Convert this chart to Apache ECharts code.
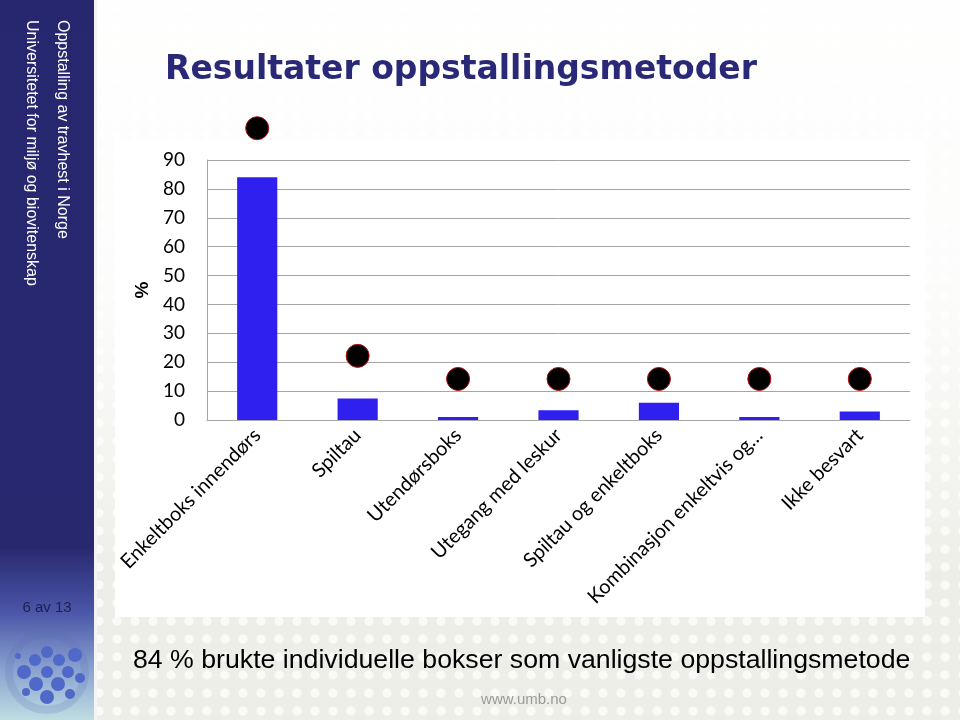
<!DOCTYPE html>
<html>
<head>
<meta charset="utf-8">
<script src="https://cdn.jsdelivr.net/npm/echarts@6/dist/echarts.min.js"></script>
<style>
html,body{margin:0;padding:0;}
body{width:960px;height:720px;overflow:hidden;
background-color:#eeeee9;
background-image:linear-gradient(to bottom, rgba(255,255,255,0.96) 0%, rgba(255,255,255,0.85) 40%, rgba(255,255,255,0) 80%),
radial-gradient(circle, #fafaf8 4px, rgba(0,0,0,0) 5px);
background-size:960px 720px, 18px 18px;}
#chart{width:960px;height:720px;}
</style>
</head>
<body>
<div id="chart"></div>
<script>
var categories = ['Enkeltboks innendørs','Spiltau','Utendørsboks','Utegang med leskur','Spiltau og enkeltboks','Kombinasjon enkeltvis og…','Ikke besvart'];
var barValues = [84, 7.4, 1.0, 3.4, 6.0, 1.0, 2.9];
var dotValues = [101, 22.2, 14.2, 14.2, 14.2, 14.2, 14.2];
var yTicks = [0, 10, 20, 30, 40, 50, 60, 70, 80, 90];

var chart = echarts.init(document.getElementById('chart'), null, {renderer:'canvas'});

var logoDots = [[47,652,6],[35,660,6],[59,660,6],[75,655,7],[24,672,7],[47,672,6],[68,672,6],[36,684,7],[58,684,7],[80,678,5],[47,697,7],[26,692,4],[70,694,5],[18,656,3]];
var logo = logoDots.map(function(d){
  return {type:'circle', shape:{cx:d[0], cy:d[1], r:d[2]}, style:{fill:'#5068c8'}, z:-5};
});

var option = {
  animation:false,
  backgroundColor:'transparent',
  graphic:[
    {type:'rect', shape:{x:0,y:0,width:94,height:720}, z:-10,
      style:{fill:new echarts.graphic.LinearGradient(0,0,0,1,[
        {offset:0,color:'#27276f'},{offset:0.76,color:'#28286f'},{offset:0.85,color:'#4a56a8'},{offset:0.93,color:'#8aa2d0'},{offset:1,color:'#bfdde2'}])}},
    {type:'rect', shape:{x:94,y:0,width:3,height:720}, z:-10, style:{fill:'#f4f4f4'}},
    {type:'rect', shape:{x:115,y:140,width:810,height:477}, z:-10, style:{fill:'#ffffff'}},
    {type:'text', x:62, y:20, rotation:-Math.PI/2, z:5,
      style:{text:'Oppstalling av travhest i Norge', fill:'#ffffff', font:'16px "Liberation Sans", Arial, sans-serif', align:'left', verticalAlign:'middle'}},
    {type:'text', x:31, y:20, rotation:-Math.PI/2, z:5,
      style:{text:'Universitetet for miljø og biovitenskap', fill:'#ffffff', font:'16px "Liberation Sans", Arial, sans-serif', align:'left', verticalAlign:'middle'}},
    {type:'text', x:47, y:608, z:5,
      style:{text:'6 av 13', fill:'#1e1e50', font:'15px "Liberation Sans", Arial, sans-serif', align:'center', verticalAlign:'middle'}},
    {type:'circle', shape:{cx:47,cy:672,r:38}, z:-6, style:{fill:'none', stroke:'rgba(90,110,180,0.2)', lineWidth:8}}
  ].concat(logo).concat([
    {type:'text', x:165, y:70, z:5,
      style:{text:'Resultater oppstallingsmetoder', fill:'#292977', font:'bold 33px "DejaVu Sans", Verdana, sans-serif', align:'left', verticalAlign:'middle'}},
    {type:'text', x:133, y:661, z:5,
      style:{text:'84 % brukte individuelle bokser som vanligste oppstallingsmetode', fill:'#000000', font:'26.7px "Liberation Sans", Arial, sans-serif', align:'left', verticalAlign:'middle'}},
    {type:'text', x:524, y:700, z:5,
      style:{text:'www.umb.no', fill:'#9a9a9a', font:'15px "Liberation Sans", Arial, sans-serif', align:'center', verticalAlign:'middle'}}
  ]),
  grid:{left:207, right:50, top:160, bottom:300, containLabel:false},
  xAxis:{
    type:'category', data:categories,
    axisLine:{show:true, lineStyle:{color:'#a6a6a6', width:1}},
    axisTick:{show:false},
    axisLabel:{rotate:45, interval:0, margin:12, color:'#000000', fontSize:20, fontFamily:'Lato, "Open Sans", sans-serif'},
    splitLine:{show:false}
  },
  yAxis:{
    type:'value', min:0, max:90, interval:10,
    name:'%', nameLocation:'middle', nameGap:50, nameRotate:90,
    nameTextStyle:{fontSize:19, fontWeight:'bold', color:'#000', fontFamily:'"Liberation Sans", Arial, sans-serif'},
    axisLine:{show:true, lineStyle:{color:'#a6a6a6', width:1}},
    axisTick:{show:false},
    axisLabel:{color:'#000', fontSize:19, margin:22, fontFamily:'Lato, "Open Sans", sans-serif',
      formatter:function(v){ return yTicks.indexOf(v) >= 0 ? String(v) : ''; }},
    splitLine:{show:true, lineStyle:{color:'#a6a6a6', width:1}}
  },
  series:[
    {type:'bar', data:barValues, barWidth:'40%', itemStyle:{color:'#3020f0'}, z:2},
    {type:'scatter', data:dotValues, symbol:'circle', symbolSize:23, clip:false,
      itemStyle:{color:'#000000', borderColor:'#b01010', borderWidth:1, opacity:1}, z:3}
  ]
};
chart.setOption(option);
</script>
</body>
</html>
